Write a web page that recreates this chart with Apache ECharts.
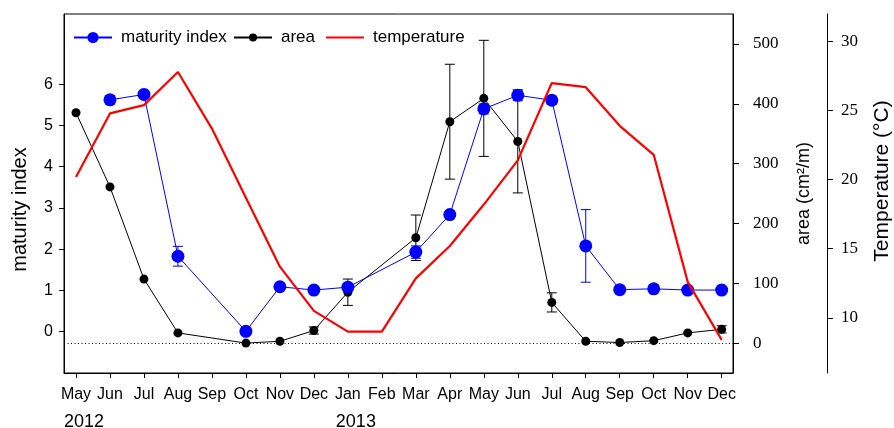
<!DOCTYPE html>
<html><head><meta charset="utf-8">
<script src="https://cdn.jsdelivr.net/npm/echarts@6/dist/echarts.min.js"></script>
<style>html,body{margin:0;padding:0;background:#fff}#c{width:894px;height:428px}</style>
</head><body><div id="c"></div>
<script>
const months = ['May','Jun','Jul','Aug','Sep','Oct','Nov','Dec','Jan','Feb','Mar','Apr','May','Jun','Jul','Aug','Sep','Oct','Nov','Dec'];
const years = ['2012','','','','','','','','2013','','','','','','','','','','',''];
const maturity = [null,5.62,5.75,1.83,null,0.01,1.09,1.01,1.08,null,1.93,2.84,5.40,5.73,5.61,2.08,1.02,1.04,1.01,1.01];
const maturityErr = [0,0.1,0.05,0.24,0,0,0,0,0.05,0,0.15,0.05,0.12,0.13,0.1,0.88,0,0,0,0];
const area = [385,261,107,17,null,0,3,21,85,null,176,370,409,337,68,3,1,4,17,23];
const areaErr = [0,0,0,0,0,0,0,6,22,0,38,96,97,86,16,0,0,0,0,6];
const temperature = [20.2,24.8,25.4,27.8,23.7,18.7,13.7,10.5,9.0,9.0,12.85,15.2,18.2,21.4,27.0,26.7,23.9,21.8,12.6,8.4];
const maturityTicks = [0,1,2,3,4,5,6];
const areaTicks = [0,100,200,300,400,500];
const tempTicks = [10,15,20,25,30];

const SANS = 'Liberation Sans';
const SERIF = 'Liberation Serif';
const idx = months.map((m,i)=>i);
const yearIdx = idx.filter(i=>years[i]!=='');

function pairs(arr){ return arr.map((v,i)=>[i,v]).filter(p=>p[1]!==null); }
function errData(vals, errs){
  const out=[];
  vals.forEach((v,i)=>{ if(v!==null && errs[i]>0) out.push([i, v-errs[i], v+errs[i]]); });
  return out;
}
function errRender(color){
  return function(params, api){
    const x=api.value(0), lo=api.value(1), hi=api.value(2);
    const a=api.coord([x,lo]), b=api.coord([x,hi]);
    const w=5;
    const st={stroke:color,lineWidth:1};
    return {type:'group',children:[
      {type:'line',shape:{x1:a[0],y1:a[1],x2:b[0],y2:b[1]},style:st},
      {type:'line',shape:{x1:a[0]-w,y1:a[1],x2:a[0]+w,y2:a[1]},style:st},
      {type:'line',shape:{x1:b[0]-w,y1:b[1],x2:b[0]+w,y2:b[1]},style:st}
    ]};
  };
}
const axLine = {show:true,onZero:false,lineStyle:{color:'#000',width:1}};
const X_MIN = -0.353, X_MAX = 19.333;

const chart = echarts.init(document.getElementById('c'), null, {renderer:'canvas'});
chart.setOption({
  animation:false,
  backgroundColor:'#fff',
  grid:{left:64,right:161,top:14,bottom:55,outerBoundsMode:'none',containLabel:false,
        show:true,borderColor:'#000',borderWidth:1,backgroundColor:'transparent'},
  legend:[
    {data:['maturity index'],left:73,top:29,itemWidth:38,itemHeight:14,padding:0,
     textStyle:{fontFamily:SANS,fontSize:17,color:'#000',padding:[0,0,0,4]}},
    {data:['area',{name:'temperature',itemStyle:{color:'rgba(0,0,0,0)',borderWidth:0,opacity:0}}],
     left:233,top:29,itemWidth:38,itemHeight:10,itemGap:10,padding:0,
     textStyle:{fontFamily:SANS,fontSize:17,color:'#000',padding:[0,0,0,4]}}
  ],
  xAxis:[
    {type:'value',min:X_MIN,max:X_MAX,position:'bottom',
     axisLine:axLine,splitLine:{show:false},
     axisTick:{show:true,customValues:idx,length:5,lineStyle:{color:'#000'}},
     axisLabel:{customValues:idx,margin:14,color:'#000',fontFamily:SANS,fontSize:16,
       showMinLabel:true,showMaxLabel:true,hideOverlap:false,
       formatter:function(v){return months[Math.round(v)];}}},
    {type:'value',min:X_MIN,max:X_MAX,position:'bottom',
     axisLine:{show:false,onZero:false},splitLine:{show:false},axisTick:{show:false},
     axisLabel:{customValues:yearIdx,margin:40,color:'#000',fontFamily:SANS,fontSize:18,
       padding:[0,0,0,16],showMinLabel:true,hideOverlap:false,
       formatter:function(v){return years[Math.round(v)];}}}
  ],
  yAxis:[
    {type:'value',min:-1,max:7.7,position:'left',
     axisLine:axLine,splitLine:{show:false},
     axisTick:{show:true,customValues:maturityTicks,length:5,lineStyle:{color:'#000'}},
     axisLabel:{customValues:maturityTicks,fontFamily:SANS,fontSize:16,color:'#000',margin:11},
     name:'maturity index',nameLocation:'middle',nameRotate:90,nameGap:34,
     nameTextStyle:{fontFamily:SANS,fontSize:20,color:'#000',padding:[0,32,0,0]}},
    {type:'value',min:-50,max:550,position:'right',
     axisLine:axLine,splitLine:{show:false},
     axisTick:{show:true,customValues:areaTicks,length:6,lineStyle:{color:'#000'}},
     axisLabel:{customValues:areaTicks,fontFamily:SERIF,fontSize:17,color:'#000',margin:20},
     name:'area (cm²/m)',nameLocation:'middle',nameRotate:90,nameGap:62,
     nameTextStyle:{fontFamily:SANS,fontSize:18,color:'#000'}},
    {type:'value',min:6,max:32,position:'right',offset:94,
     axisLine:axLine,splitLine:{show:false},
     axisTick:{show:true,customValues:tempTicks,length:6,lineStyle:{color:'#000'}},
     axisLabel:{customValues:tempTicks,fontFamily:SERIF,fontSize:17,color:'#000',margin:14},
     name:'Temperature (°C)',nameLocation:'middle',nameRotate:90,nameGap:45,
     nameTextStyle:{fontFamily:SANS,fontSize:21,color:'#000',padding:[0,0,0,25]}}
  ],
  series:[
    {type:'custom',name:'areaErr',xAxisIndex:0,yAxisIndex:1,renderItem:errRender('#000'),
     encode:{x:0,y:[1,2]},data:errData(area,areaErr),z:2,silent:true},
    {type:'line',name:'area',xAxisIndex:0,yAxisIndex:1,data:pairs(area),
     symbol:'circle',symbolSize:9,color:'#000',
     lineStyle:{color:'#000',width:1},itemStyle:{color:'#000'},z:3,
     markLine:{silent:true,symbol:['none','none'],label:{show:false},
       lineStyle:{type:[1,2.5],color:'#000',width:1},data:[{yAxis:0}]}},
    {type:'custom',name:'maturityErr',xAxisIndex:0,yAxisIndex:0,renderItem:errRender('#0000ff'),
     encode:{x:0,y:[1,2]},data:errData(maturity,maturityErr),z:4,silent:true},
    {type:'line',name:'maturity index',xAxisIndex:0,yAxisIndex:0,data:pairs(maturity),
     symbol:'circle',symbolSize:13,color:'#0000ff',
     lineStyle:{color:'#0000ff',width:1},itemStyle:{color:'#0000ff'},z:5},
    {type:'line',name:'temperature',xAxisIndex:0,yAxisIndex:2,data:pairs(temperature),
     symbol:'none',color:'#ff0000',lineStyle:{color:'#ff0000',width:2.2},z:6}
  ]
});
</script></body></html>
